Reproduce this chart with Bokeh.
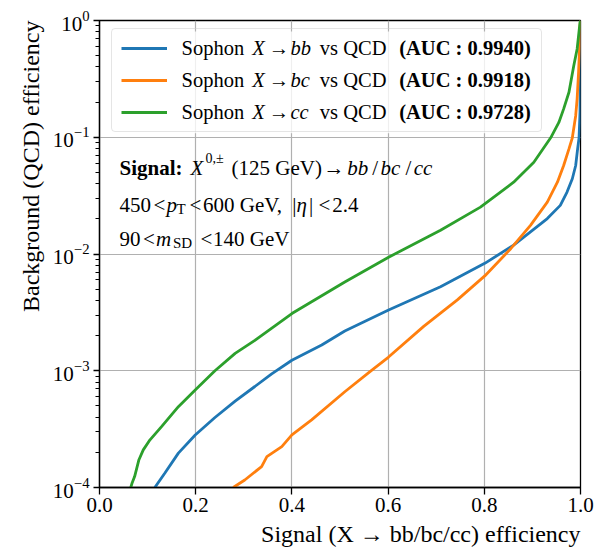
import math
from bokeh.plotting import figure
from bokeh.models import FixedTicker, Label, Legend, LegendItem, NumeralTickFormatter, Title, BoxAnnotation
from bokeh.embed import file_html
from bokeh.resources import INLINE

# ---------------- data ----------------
series_names = ["bb", "bc", "cc"]
auc_values = ["0.9940", "0.9918", "0.9728"]
colors = ["#1f77b4", "#ff7f0e", "#2ca02c"]

sig_bb = [0.115, 0.136, 0.164, 0.199, 0.240, 0.282, 0.323, 0.358, 0.400, 0.462, 0.510,
          0.601, 0.709, 0.801, 0.861, 0.931, 0.958, 0.972, 0.983, 0.990, 0.994, 0.997, 0.999, 1.0]
bkg_bb = [1.0e-4, 1.33e-4, 1.97e-4, 2.82e-4, 3.98e-4, 5.50e-4, 7.33e-4, 9.40e-4, 1.23e-3, 1.66e-3, 2.19e-3,
          3.32e-3, 5.25e-3, 8.32e-3, 1.19e-2, 2.01e-2, 2.61e-2, 3.39e-2, 4.41e-2, 5.73e-2, 7.96e-2, 9.89e-2, 0.164, 1.0]

sig_bc = [0.278, 0.302, 0.337, 0.348, 0.379, 0.400, 0.441, 0.510, 0.563, 0.601, 0.674,
          0.744, 0.801, 0.855, 0.896, 0.931, 0.952, 0.965, 0.976, 0.983, 0.990, 0.993, 0.996, 0.998, 0.999, 1.0]
bkg_bc = [1.0e-4, 1.16e-4, 1.51e-4, 1.84e-4, 2.24e-4, 2.82e-4, 3.80e-4, 6.61e-4, 9.89e-4, 1.31e-3, 2.40e-3,
          4.05e-3, 6.49e-3, 1.11e-2, 1.76e-2, 2.78e-2, 4.12e-2, 5.73e-2, 7.94e-2, 9.89e-2, 0.153, 0.213, 0.360, 0.570, 0.902, 1.0]

sig_cc = [0.065, 0.068, 0.073, 0.082, 0.091, 0.105, 0.129, 0.164, 0.199, 0.240, 0.282, 0.323,
          0.400, 0.510, 0.601, 0.709, 0.792, 0.861, 0.903, 0.938, 0.955, 0.965, 0.976, 0.986, 0.993, 0.999, 1.0]
bkg_cc = [1.0e-4, 1.1e-4, 1.24e-4, 1.73e-4, 2.10e-4, 2.56e-4, 3.32e-4, 4.92e-4, 6.85e-4, 1.0e-3, 1.41e-3, 1.82e-3,
          3.09e-3, 5.75e-3, 9.38e-3, 1.60e-2, 2.52e-2, 4.12e-2, 6.11e-2, 9.89e-2, 0.134, 0.175, 0.243, 0.410, 0.570, 0.962, 1.0]

x_ticks = [0.0, 0.2, 0.4, 0.6, 0.8, 1.0]
y_ticks = [1e-4, 1e-3, 1e-2, 1e-1, 1.0]

# ---------------- layout ----------------
SERIF = "Liberation Serif"
W, H = 602, 550
BL, BR, BT, BB = 99, 22, 20, 62
FW, FH = W - BL - BR, H - BT - BB          # frame size in px
PX0, PY0 = BL, BT                           # page position of the frame's top-left corner
DY = -7.5                                   # baseline correction for labels
YMIN, YMAX = 1e-4, 1.0
DEC = FH / (math.log10(YMAX) - math.log10(YMIN))

p = figure(width=W, height=H, x_range=(0, 1), y_range=(YMIN, YMAX), y_axis_type="log",
           output_backend="svg", toolbar_location=None,
           min_border_left=BL, min_border_right=BR, min_border_top=BT, min_border_bottom=BB)
p.background_fill_color = "white"
p.border_fill_color = "white"
p.outline_line_color = "black"
p.outline_line_width = 1.3
p.outline_line_alpha = 1.0

renderers = []
for xs, ys, c in [(sig_bb, bkg_bb, colors[0]), (sig_bc, bkg_bc, colors[1]), (sig_cc, bkg_cc, colors[2])]:
    renderers.append(p.line(xs, ys, line_color=c, line_width=2.8))

minor = [k * 10.0 ** e for e in range(-4, 0) for k in range(2, 10)]
p.xaxis.ticker = FixedTicker(ticks=x_ticks)
p.xaxis.formatter = NumeralTickFormatter(format="0.0")
p.yaxis.ticker = FixedTicker(ticks=y_ticks, minor_ticks=minor)

for ax in (p.xaxis, p.yaxis):
    ax.axis_line_color = "black"
    ax.axis_line_width = 1.3
    ax.major_tick_line_color = "black"
    ax.major_tick_line_width = 1.3
    ax.minor_tick_line_color = "black"
    ax.minor_tick_line_width = 1.0
    ax.major_tick_in = 0
    ax.minor_tick_in = 0
    ax.major_label_text_font = SERIF
    ax.major_label_text_font_size = "21px"
    ax.major_label_text_color = "black"
p.xaxis.major_tick_out = 7
p.xaxis.minor_tick_out = 0
p.xaxis.major_label_standoff = 3
p.yaxis.major_tick_out = 6
p.yaxis.minor_tick_out = 4
p.yaxis.major_label_standoff = 4

p.xgrid.grid_line_color = "#b0b0b0"
p.ygrid.grid_line_color = "#b0b0b0"
p.xgrid.grid_line_width = 1.2
p.ygrid.grid_line_width = 1.2

# axis titles, placed at the ends of the axes (as in the reference)
p.add_layout(Title(text="Signal (X \u2192 bb/bc/cc) efficiency", align="right", text_font=SERIF,
                   text_font_size="24px", text_font_style="normal", text_color="black",
                   offset=0, standoff=8), "below")
p.add_layout(Title(text="Background (QCD) efficiency", align="right", text_font=SERIF,
                   text_font_size="24px", text_font_style="normal", text_color="black",
                   offset=0, standoff=12), "left")

# ---------------- legend ----------------
LEG_LEFT, LEG_BOTTOM, LEG_PAD, LEG_SP, ROW_H, GLW, LSO, LW = 12, 355, 9, 12, 20, 46, 5, 360
leg_w = 2 * LEG_PAD + GLW + LSO + LW
leg_h = 2 * LEG_PAD + 3 * ROW_H + 2 * LEG_SP
box = BoxAnnotation(left=LEG_LEFT / FW, right=(LEG_LEFT + leg_w) / FW,
                    bottom=10 ** (math.log10(YMIN) + LEG_BOTTOM / DEC),
                    top=10 ** (math.log10(YMIN) + (LEG_BOTTOM + leg_h) / DEC),
                    fill_color="white", fill_alpha=0.8, line_color=None, level="glyph")
p.add_layout(box)

items = [LegendItem(label=" ", renderers=[r]) for r in renderers]
legend = Legend(items=items, location=(LEG_LEFT, LEG_BOTTOM), padding=LEG_PAD, spacing=LEG_SP,
                glyph_width=GLW, glyph_height=ROW_H, label_height=ROW_H, label_width=LW,
                label_standoff=LSO, border_line_color="#cccccc", border_line_width=1,
                background_fill_alpha=0.0, margin=0)
try:
    legend.border_radius = 4
except Exception:
    pass
p.add_layout(legend)


def seg(text, px, py, size, style="normal", align="left"):
    p.add_layout(Label(x=0, y=1, x_units="data", y_units="data",
                       x_offset=px - PX0, y_offset=-(py + DY - PY0), level="overlay",
                       text=text, text_font=SERIF, text_font_size=f"{size}px",
                       text_font_style=style, text_align=align, text_baseline="alphabetic",
                       text_color="black"))


# legend texts
LEG_BASE = [55.3, 87.3, 119.3]
for i, (nm, auc) in enumerate(zip(series_names, auc_values)):
    b = LEG_BASE[i]
    seg("Sophon", 181, b, 20.5)
    seg("X", 251.7, b, 20.5, "italic")
    seg("\u2192", 268.3, b, 20.5)
    seg(nm, 290, b, 20.5, "italic")
    seg("vs QCD", 386, b, 20.5, align="right")
    seg(f"(AUC : {auc})", 398.7, b, 20.5, "bold")

# info text block
b1, b2, b3 = 174.5, 211.7, 246.2
info_segments = [
    ("Signal:", 119, b1, 21, "bold"), ("X", 190, b1, 21, "italic"), ("0,\u00b1", 205, b1 - 9, 14, "normal"),
    ("(125 GeV)", 231, b1, 21, "normal"), ("\u2192", 323, b1, 21, "normal"),
    ("bb", 346.7, b1, 21, "italic"), ("/", 371.7, b1, 21, "normal"), ("bc", 380, b1, 21, "italic"),
    ("/", 405, b1, 21, "normal"), ("cc", 413.3, b1, 21, "italic"),
    ("450", 119, b2, 21, "normal"), ("<", 153, b2, 21, "normal"), ("p", 166, b2, 21, "italic"),
    ("T", 176, b2 + 4, 15, "normal"), ("<", 189, b2, 21, "normal"), ("600 GeV,", 202.5, b2, 21, "normal"),
    ("|", 291.7, b2, 21, "normal"), ("\u03b7", 296, b2, 21, "italic"), ("|", 308.5, b2, 21, "normal"),
    ("<", 318, b2, 21, "normal"), ("2.4", 331.7, b2, 21, "normal"),
    ("90", 119, b3, 21, "normal"), ("<", 142.5, b3, 21, "normal"), ("m", 155.5, b3, 21, "italic"),
    ("SD", 172.5, b3 + 4, 15, "normal"), ("<", 200, b3, 21, "normal"), ("140 GeV", 212.5, b3, 21, "normal"),
]
for t, x, y, s, st in info_segments:
    seg(t, x, y, s, st)

open("out.html", "w").write(file_html(p, INLINE))
